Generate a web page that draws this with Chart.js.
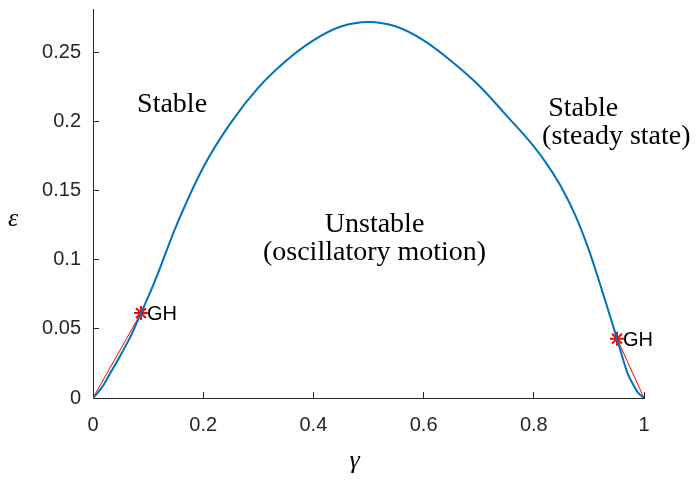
<!DOCTYPE html>
<html>
<head>
<meta charset="utf-8">
<script src="https://cdn.jsdelivr.net/npm/chart.js@4"></script>
<style>
  html, body { margin: 0; padding: 0; background: #fff; }
</style>
</head>
<body>
<canvas id="chart" width="697" height="485"></canvas>
<script>
    // --- Data ---
    const gammaVals = [0, 0.01, 0.02, 0.03, 0.05, 0.07, 0.087, 0.1, 0.12, 0.15, 0.2, 0.25, 0.3, 0.35, 0.4, 0.45, 0.5,
                       0.55, 0.6, 0.65, 0.7, 0.75, 0.8, 0.825, 0.85, 0.875, 0.9, 0.93, 0.951, 0.97, 0.98, 0.99, 1];
    const epsVals   = [0, 0.0045, 0.010, 0.017, 0.031, 0.046, 0.0614, 0.0729, 0.0924, 0.1235, 0.1668, 0.199, 0.2245, 0.2438, 0.2587, 0.2687, 0.272,
                       0.2687, 0.2587, 0.2438, 0.2262, 0.2045, 0.182, 0.1685, 0.1525, 0.1325, 0.107, 0.070, 0.0429, 0.018, 0.010, 0.0035, 0];

    // GH points and the red straight segments down to the corners
    const ghGamma = [0.087, 0.951];
    const ghEps   = [0.0614, 0.0429];
    const leftRedGamma  = [0, 0.087];
    const leftRedEps    = [0, 0.0614];
    const rightRedGamma = [0.951, 1];
    const rightRedEps   = [0.0429, 0];

    const xTicks = [0, 0.2, 0.4, 0.6, 0.8, 1];
    const yTicks = [0, 0.05, 0.1, 0.15, 0.2, 0.25];

    // --- Text annotations (data coordinates) ---
    const regionText  = ['Stable', 'Stable', '(steady state)', 'Unstable', '(oscillatory motion)'];
    const regionGamma = [0.080, 0.826, 0.815, 0.511, 0.511];
    const regionEps   = [0.207, 0.2043, 0.1836, 0.120, 0.100];
    const regionAlign = ['left', 'left', 'left', 'center', 'center'];

    const AXIS_COLOR = '#262626';

    function toPoints(xs, ys) {
        return xs.map((x, i) => ({ x: x, y: ys[i] }));
    }

    const textPlugin = {
        id: 'figureText',
        afterDatasetsDraw(chart) {
            const ctx = chart.ctx;
            const xs = chart.scales.x, ys = chart.scales.y;
            const area = chart.chartArea;
            ctx.save();
            ctx.fillStyle = '#000';
            ctx.textBaseline = 'alphabetic';

            // region labels
            ctx.font = '28px "Liberation Serif"';
            regionText.forEach((t, i) => {
                ctx.textAlign = regionAlign[i];
                ctx.fillText(t, xs.getPixelForValue(regionGamma[i]), ys.getPixelForValue(regionEps[i]));
            });

            // GH labels next to the markers
            ctx.font = '20px "Liberation Sans"';
            ctx.textAlign = 'left';
            ghGamma.forEach((g, i) => {
                ctx.fillText('GH', xs.getPixelForValue(g) + 6, ys.getPixelForValue(ghEps[i]) + 7);
            });

            // axis titles
            ctx.font = 'italic 26px "Liberation Serif"';
            ctx.textAlign = 'center';
            ctx.fillText('\u03B3', xs.getPixelForValue(0.475), area.bottom + 70);
            ctx.fillText('\u03B5', 13, ys.getPixelForValue(0.13) + 8);
            ctx.restore();
        }
    };

    new Chart(document.getElementById('chart'), {
        type: 'scatter',
        data: {
            datasets: [
                {
                    data: toPoints(gammaVals, epsVals),
                    showLine: true,
                    borderColor: '#0072BD',
                    borderWidth: 2,
                    pointRadius: 0,
                    cubicInterpolationMode: 'monotone'
                },
                {
                    data: toPoints(leftRedGamma, leftRedEps),
                    showLine: true,
                    borderColor: '#FF0000',
                    borderWidth: 1,
                    pointRadius: 0
                },
                {
                    data: toPoints(rightRedGamma, rightRedEps),
                    showLine: true,
                    borderColor: '#FF0000',
                    borderWidth: 1,
                    pointRadius: 0
                },
                {
                    data: toPoints(ghGamma, ghEps),
                    showLine: false,
                    pointStyle: 'star',
                    pointRadius: 7,
                    pointBorderWidth: 2,
                    borderColor: '#FF0000',
                    backgroundColor: '#FF0000'
                }
            ]
        },
        options: {
            responsive: false,
            animation: false,
            layout: { padding: { top: 4, right: 53, left: 0, bottom: 0 } },
            plugins: {
                legend: { display: false },
                tooltip: { enabled: false }
            },
            scales: {
                x: {
                    type: 'linear',
                    min: 0,
                    max: 1,
                    afterBuildTicks: s => { s.ticks = xTicks.map(v => ({ value: v })); },
                    afterFit: s => { s.height = 87; s.paddingLeft = 0; s.paddingRight = 0; },
                    border: { color: AXIS_COLOR, width: 1 },
                    grid: { drawOnChartArea: false, tickLength: -6, tickColor: AXIS_COLOR },
                    ticks: {
                        padding: 21,
                        color: AXIS_COLOR,
                        font: { family: 'Liberation Sans', size: 20 },
                        maxRotation: 0,
                        callback: v => String(v)
                    }
                },
                y: {
                    type: 'linear',
                    min: 0,
                    max: 0.2814,
                    afterBuildTicks: s => { s.ticks = yTicks.map(v => ({ value: v })); },
                    afterFit: s => { s.width = 93; s.paddingTop = 0; s.paddingBottom = 0; },
                    border: { color: AXIS_COLOR, width: 1 },
                    grid: { drawOnChartArea: false, tickLength: -6, tickColor: AXIS_COLOR },
                    ticks: {
                        padding: 18,
                        color: AXIS_COLOR,
                        font: { family: 'Liberation Sans', size: 20 },
                        callback: v => String(v)
                    }
                }
            }
        },
        plugins: [textPlugin]
    });
</script>
</body>
</html>
